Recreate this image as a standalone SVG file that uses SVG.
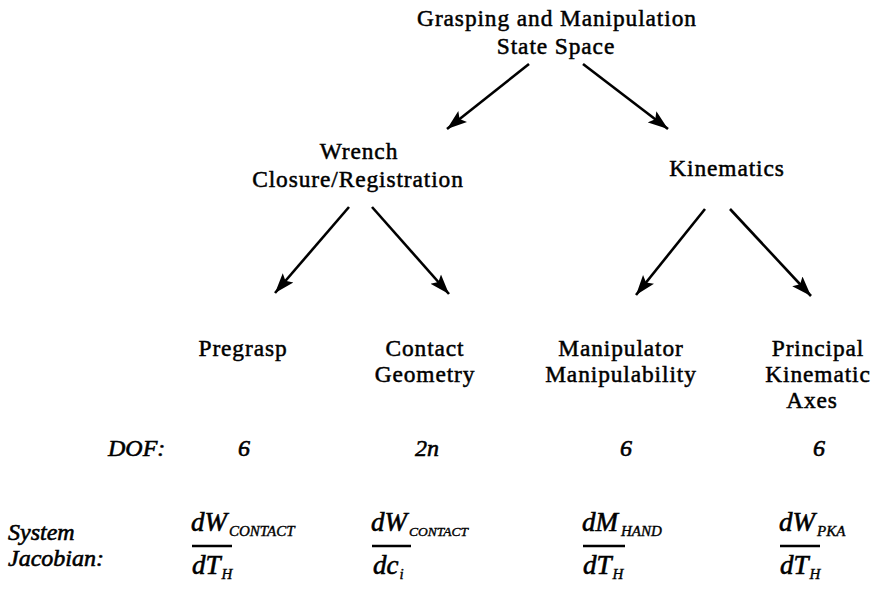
<svg xmlns="http://www.w3.org/2000/svg" width="874" height="590" viewBox="0 0 874 590">
<style>
text{font-family:'Liberation Serif','Times New Roman','DejaVu Serif',serif;fill:#000;stroke:#000}
.t{font-size:23.4px;letter-spacing:0.9px;stroke-width:0.5;text-anchor:middle}
.i{font-style:italic;font-size:24px;stroke-width:0.6}
.m{font-style:italic;font-size:27px;stroke-width:0.6}
.s{font-size:15px;stroke-width:0.4}
.c{text-anchor:middle}
.edge{stroke:#000;stroke-width:2.6;fill:none;marker-end:url(#ah)}
.bar{stroke:#000;stroke-width:2.6}
</style>
<defs>
<marker id="ah" markerUnits="userSpaceOnUse" markerWidth="22" markerHeight="16" viewBox="0 0 22 16" refX="20" refY="8" orient="auto">
<path d="M0,1 L20,8 L0,15 L4,8 z" fill="#000"/>
</marker>
</defs>
<rect width="874" height="590" fill="#fff"/>
<g id="connectors">
<line class="edge" x1="529" y1="64" x2="447" y2="129"/>
<line class="edge" x1="583" y1="64" x2="668" y2="129"/>
<line class="edge" x1="349" y1="207" x2="275" y2="293"/>
<line class="edge" x1="372" y1="207" x2="449" y2="294"/>
<line class="edge" x1="705" y1="209" x2="636" y2="295"/>
<line class="edge" x1="730" y1="209" x2="811" y2="296"/>
</g>
<g id="root"><text class="t" x="557" y="26">Grasping and Manipulation</text><text class="t" x="556" y="54">State Space</text></g>
<g id="wrench"><text class="t" x="359" y="159">Wrench</text><text class="t" x="358" y="187">Closure/Registration</text></g>
<g id="kinematics"><text class="t" x="727" y="176">Kinematics</text></g>
<g id="pregrasp"><text class="t" x="243" y="356">Pregrasp</text></g>
<g id="contact"><text class="t" x="425" y="356">Contact</text><text class="t" x="425" y="382">Geometry</text></g>
<g id="manipulator"><text class="t" x="621" y="356">Manipulator</text><text class="t" x="621" y="382">Manipulability</text></g>
<g id="principal"><text class="t" x="818" y="356">Principal</text><text class="t" x="818" y="382">Kinematic</text><text class="t" x="812" y="408">Axes</text></g>
<g id="dof">
<text class="i" x="108" y="456">DOF:</text>
<text class="i c" x="244" y="456">6</text>
<text class="i c" x="427" y="456">2n</text>
<text class="i c" x="626" y="456">6</text>
<text class="i c" x="819" y="456">6</text>
</g>
<g id="jacobian">
<text class="i" x="8" y="540">System</text>
<text class="i" x="8" y="566">Jacobian:</text>
<text class="m" x="191" y="531">dW<tspan class="s" dx="2" dy="5">CONTACT</tspan></text>
<line class="bar" x1="192" y1="546" x2="232" y2="546"/>
<text class="m" x="192" y="574">dT<tspan class="s" dx="1" dy="5">H</tspan></text>
<text class="m" x="371" y="531">dW<tspan class="s" dx="2" dy="5" style="font-size:13.5px">CONTACT</tspan></text>
<line class="bar" x1="372" y1="546" x2="411" y2="546"/>
<text class="m" x="373" y="574">dc<tspan class="s" dx="1" dy="5">i</tspan></text>
<text class="m" x="582" y="531">dM<tspan class="s" dx="3" dy="5">HAND</tspan></text>
<line class="bar" x1="583" y1="546" x2="625" y2="546"/>
<text class="m" x="583" y="574">dT<tspan class="s" dx="1" dy="5">H</tspan></text>
<text class="m" x="779" y="531">dW<tspan class="s" dx="2" dy="5">PKA</tspan></text>
<line class="bar" x1="780" y1="546" x2="820" y2="546"/>
<text class="m" x="780" y="574">dT<tspan class="s" dx="1" dy="5">H</tspan></text>
</g>
</svg>
